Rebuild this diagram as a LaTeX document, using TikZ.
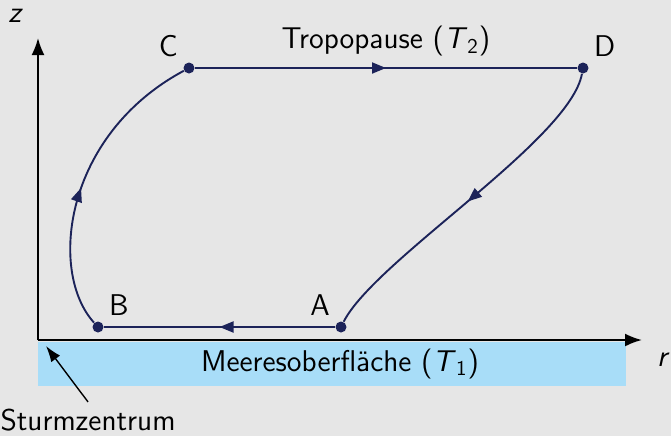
\documentclass[tikz,border=0pt]{standalone}
\usepackage{tikz}
\usetikzlibrary{positioning, arrows.meta, decorations.markings}

\definecolor{bgGray}{HTML}{E6E6E6}
\definecolor{pathNavy}{HTML}{1C2359}
\definecolor{seaBlue}{HTML}{A8DDF8}

\tikzset{
    pt/.style={circle, fill=pathNavy, inner sep=0pt, minimum size=5.5pt},
    cyc/.style={draw=pathNavy, line width=0.95pt},
    midarrow/.style={postaction={decorate, decoration={markings,
        mark=at position #1 with {\arrow{Triangle[length=7pt, width=5.5pt]}}}}},
    axis/.style={line width=1pt, -{Latex[length=8.5pt, width=6.5pt]}}
}

\begin{document}
\begin{tikzpicture}[x=0.5pt, y=-0.5pt, font=\fontsize{15}{18}\selectfont\sffamily]
    \fill[bgGray] (0, 0) rectangle (671, 436);
    \useasboundingbox (0, 0) rectangle (671, 436);

    % sea surface
    \fill[seaBlue] (38, 342) rectangle (626, 386);
    \node (sea) at (340, 364) {Meeresoberfläche (\textit{T}\textsubscript{1})};

    % axes
    \coordinate (O) at (38, 340);
    \coordinate (ztip) at (38, 38);
    \coordinate (rtip) at (642, 340);
    \draw[axis] (O) -- (ztip);
    \draw[axis] (O) -- (rtip);
    \node[above left=4pt and 4pt of ztip] (zlab) {\textit{z}};
    \node[below right=3pt and 4pt of rtip] (rlab) {\textit{r}};

    % storm centre
    \coordinate (eye) at (46, 346);
    \node (sturm) at (88, 420) {Sturmzentrum};
    \draw[line width=0.7pt, -{Latex[length=8pt, width=5.5pt]}] (sturm.north) -- (eye);

    % cycle points
    \node[pt, label={above left:A}] (A) at (341, 327) {};
    \node[pt, label={above right:B}] (B) at (98, 327) {};
    \node[pt, label={above left:C}] (C) at (189, 68) {};
    \node[pt, label={above right:D}] (D) at (583, 68) {};

    \draw[cyc, midarrow=0.5] (A) -- (B);
    \draw[cyc, midarrow=0.47] (B) .. controls (48, 272) and (64, 135) .. (C);
    \draw[cyc, midarrow=0.5] (C) -- node[above=2pt] (tropo) {Tropopause (\textit{T}\textsubscript{2})} (D);
    \draw[cyc, midarrow=0.5] (D) .. controls (570, 140) and (375, 260) .. (A);
\end{tikzpicture}
\end{document}
